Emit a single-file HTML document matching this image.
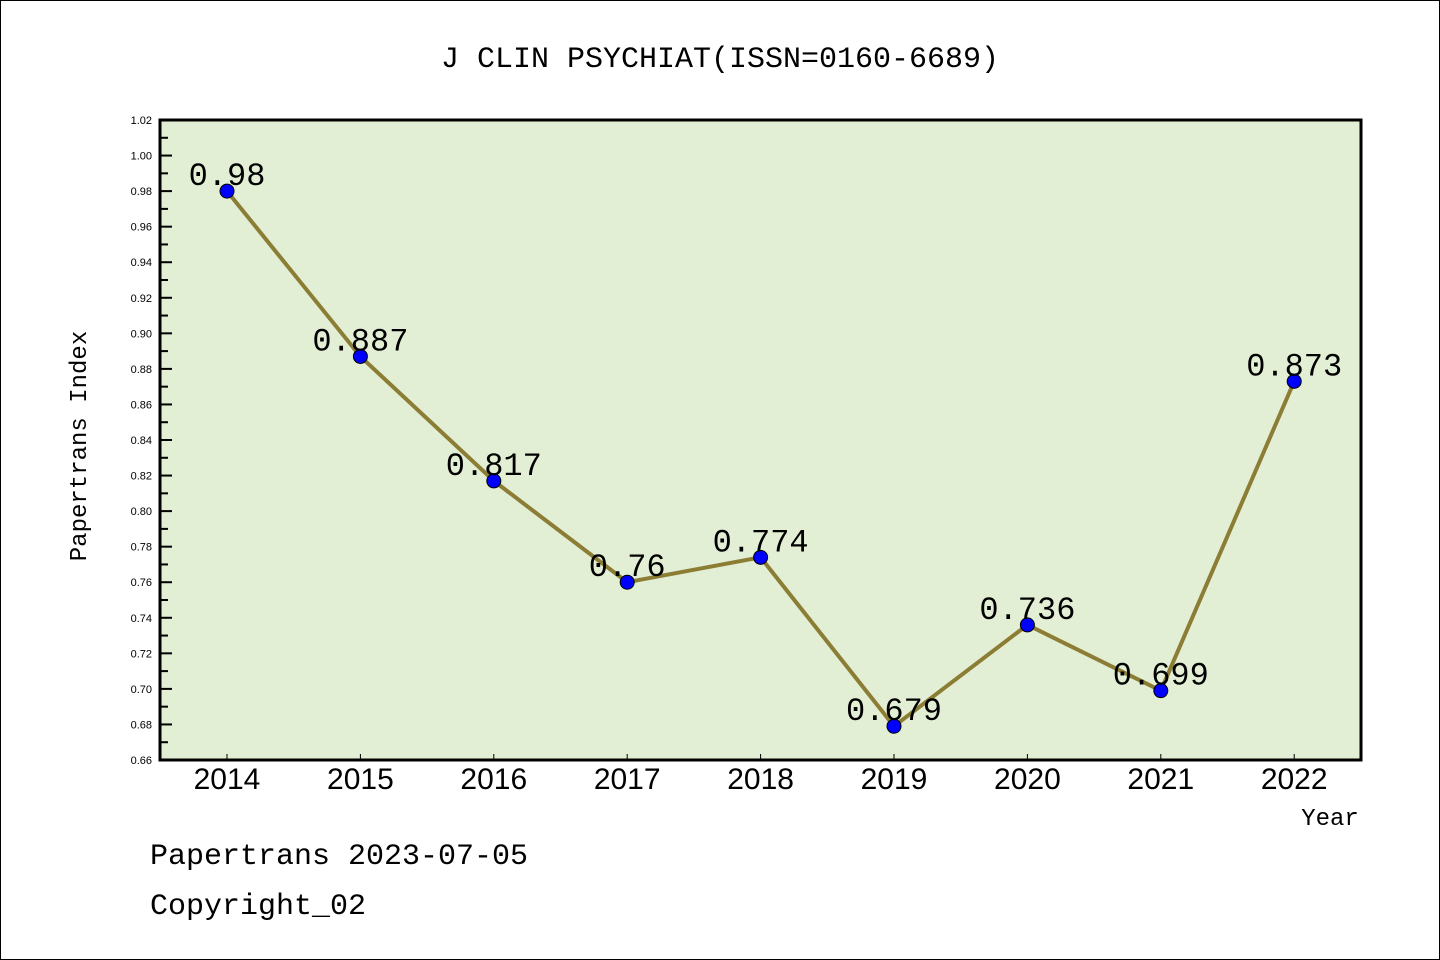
<!DOCTYPE html>
<html><head><meta charset="utf-8"><style>
body{margin:0;background:#fff}
svg{display:block;font-family:"Liberation Mono","DejaVu Sans Mono",monospace}
</style></head><body>
<svg width="1440" height="960" viewBox="0 0 1440 960">
<rect x="0.5" y="0.5" width="1439" height="959" fill="#fff" stroke="#000"/>
<text x="720" y="67" text-anchor="middle" font-size="30">J CLIN PSYCHIAT(ISSN=0160-6689)</text>
<rect x="160" y="120" width="1201" height="640" fill="#e2efd5"/>
<g id="axes"></g>
<g id="marks"></g>
<rect x="160" y="120" width="1201" height="640" fill="none" stroke="#000" stroke-width="3"/>
<text x="86" y="446" text-anchor="middle" font-size="24" transform="rotate(-90 86 446)">Papertrans Index</text>
<text x="1330" y="825" text-anchor="middle" font-size="24">Year</text>
<text x="150" y="864" font-size="30">Papertrans 2023-07-05</text>
<text x="150" y="914" font-size="30">Copyright_02</text>
</svg>
<script>
const years=["2014","2015","2016","2017","2018","2019","2020","2021","2022"];
const values=[0.98,0.887,0.817,0.76,0.774,0.679,0.736,0.699,0.873];
const valueLabels=["0.98","0.887","0.817","0.76","0.774","0.679","0.736","0.699","0.873"];
const yTicks=[0.66,0.68,0.70,0.72,0.74,0.76,0.78,0.80,0.82,0.84,0.86,0.88,0.90,0.92,0.94,0.96,0.98,1.00,1.02];
const NS="http://www.w3.org/2000/svg";
const yMin=0.66,yMax=1.02,plotTop=120,plotBot=760,plotLeft=160;
function ys(v){return plotBot-(v-yMin)/(yMax-yMin)*(plotBot-plotTop);}
function xs(i){return 227+i*133.4;}
function mk(t,a,p){const e=document.createElementNS(NS,t);for(const k in a)e.setAttribute(k,a[k]);p.appendChild(e);return e;}
const ax=document.getElementById('axes'),mg=document.getElementById('marks');
yTicks.forEach((v,i)=>{
  const y=ys(v);
  const t=mk('line',{x1:plotLeft,x2:plotLeft+12,y1:y,y2:y,stroke:'#000','stroke-width':2},ax);
  
  
  const l=mk('text',{x:152,y:y+4,'text-anchor':'end','font-size':11,'font-family':'Liberation Sans, sans-serif'},ax);
  l.textContent=v.toFixed(2);
  
  
  if(i<yTicks.length-1){
    const ym=ys(v+0.01);
    const m=mk('line',{x1:plotLeft,x2:plotLeft+8,y1:ym,y2:ym,stroke:'#000','stroke-width':2},ax);
    
    
  }
});
years.forEach((yr,i)=>{
  const x=xs(i);
  const t=mk('line',{x1:x,x2:x,y1:plotBot,y2:plotBot-6,stroke:'#000','stroke-width':1},ax);
  
  
  const l=mk('text',{x:x,y:789,'text-anchor':'middle','font-size':30,'font-family':'Liberation Sans, sans-serif'},ax);
  l.textContent=yr;
  
  
});
const line=mk('polyline',{points:values.map((v,i)=>xs(i)+','+ys(v)).join(' '),fill:'none',stroke:'#8c7d35','stroke-width':4},mg);


values.forEach((v,i)=>{
  const c=mk('circle',{cx:xs(i),cy:ys(v),r:7,fill:'#0000ff',stroke:'#000','stroke-width':1},mg);
  
  
  const t=mk('text',{x:xs(i),y:ys(v)-6,'text-anchor':'middle','font-size':32},mg);
  t.textContent=valueLabels[i];
  
  
});
</script>
</body></html>
